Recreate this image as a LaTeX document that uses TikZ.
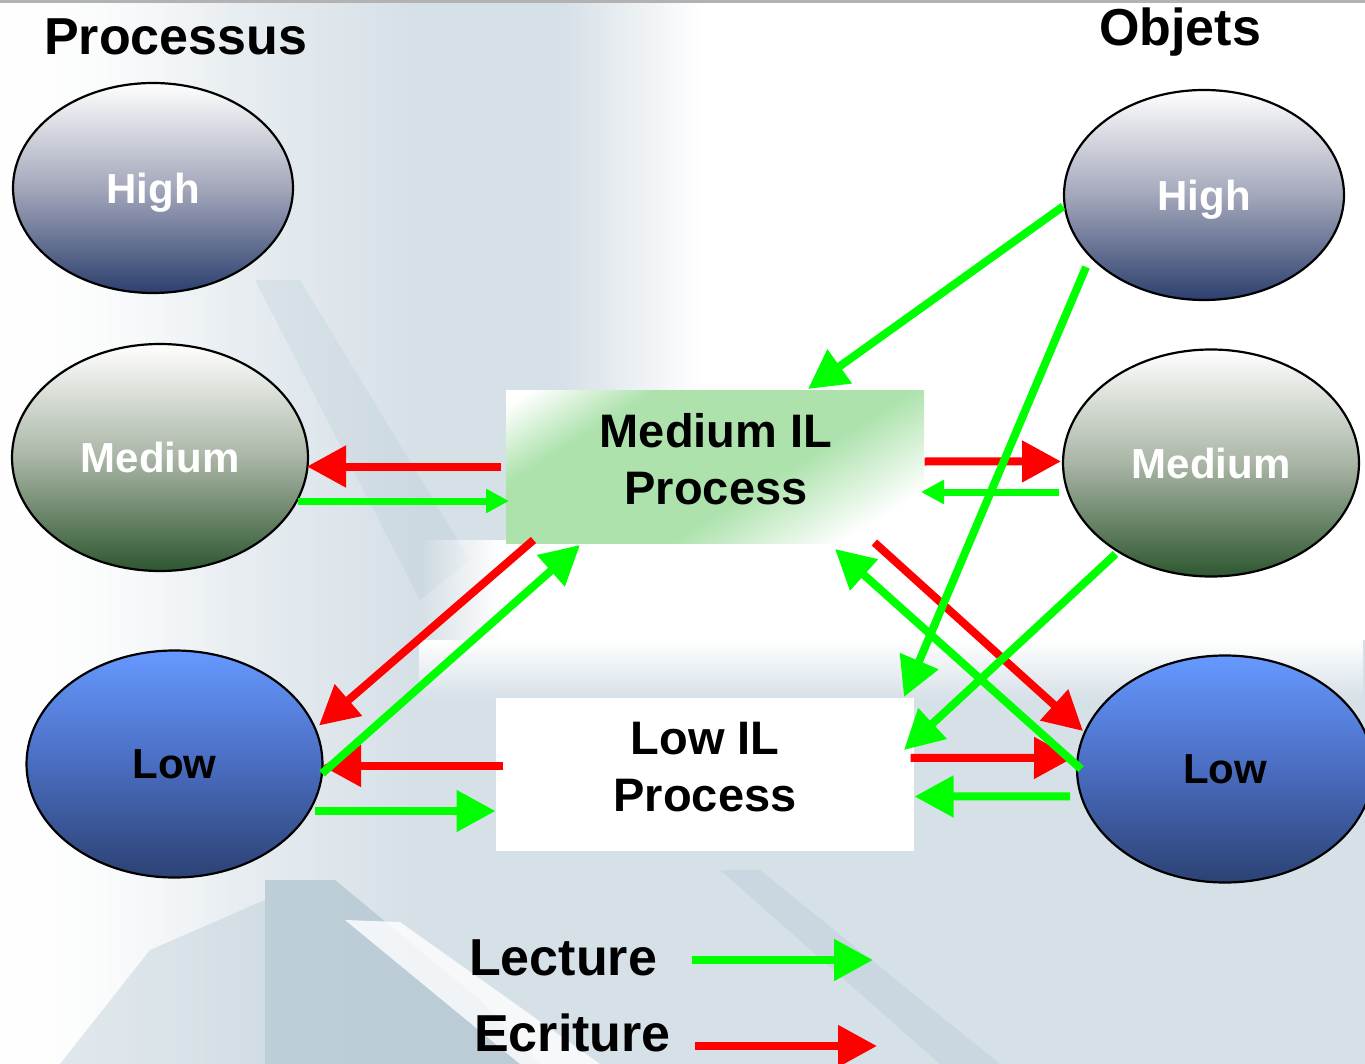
\documentclass[tikz,border=0pt]{standalone}
\usepackage{fontspec}
\setmainfont{Liberation Sans}
\usetikzlibrary{shapes.geometric,arrows.meta,fadings,calc}
\definecolor{bgc}{HTML}{D6E0E7}
\definecolor{bgd}{HTML}{B5C8D3}
\definecolor{gr}{HTML}{00FF00}
\definecolor{rd}{HTML}{FF0000}
\definecolor{boxg}{HTML}{ADE2AD}
\definecolor{hib}{HTML}{2C3F6E}
\definecolor{him}{HTML}{A3A7BA}
\definecolor{meb}{HTML}{2E5730}
\definecolor{mem}{HTML}{A9B5A5}
\definecolor{lot}{HTML}{6699FF}
\definecolor{lom}{HTML}{4A6DC0}
\definecolor{lob}{HTML}{2C4274}
\pgfdeclarehorizontalshading{boxsh}{100bp}{color(0bp)=(white); color(18bp)=(white); color(31bp)=(boxg); color(58bp)=(boxg); color(76bp)=(white); color(100bp)=(white)}
\begin{document}
\begin{tikzpicture}[x=1pt,y=-1pt,
  lvl/.style={ellipse, draw=black, line width=2.2pt, inner sep=0pt, text depth=0pt,
    font=\fontsize{42}{46}\selectfont\bfseries},
  hist/.style={lvl, minimum width=280pt, minimum height=210pt, top color=white, bottom color=hib, middle color=him, text=white},
  mest/.style={lvl, minimum width=296pt, minimum height=227pt, top color=white, bottom color=meb, middle color=mem, text=white},
  lost/.style={lvl, minimum width=296pt, minimum height=227pt, top color=lot, bottom color=lob, middle color=lom, text=black},
  procbox/.style={inner sep=0pt, minimum width=418pt, minimum height=153pt},
  boxtext/.style={align=center, inner sep=0pt, font=\fontsize{47}{57}\selectfont\bfseries},
  title/.style={inner sep=0pt, anchor=base west, font=\fontsize{52}{56}\selectfont\bfseries},
  wline/.style={draw=rd, line width=8pt, -{Triangle[length=39pt,width=40pt]}},
  rline/.style={draw=gr, line width=8pt, -{Triangle[length=39pt,width=40pt]}},
  rsmall/.style={draw=gr, line width=7pt, -{Triangle[length=23pt,width=23pt]}}]
\useasboundingbox (0,0) rectangle (1365,1064);
\clip (0,0) rectangle (1365,1064);
% background
\fill[bgc] (0,0) rectangle (1365,1064);
\fill[white, path fading=east] (0,0) rectangle (420,1064);
\fill[white, path fading=east] (0,0) rectangle (240,1064);
\fill[bgd, opacity=0.25] (255,280) -- (300,280) -- (470,560) -- (420,600) -- cycle;
\fill[white] (700,0) rectangle (1365,620);
\fill[white, path fading=west] (560,0) rectangle (700,620);
\fill[white] (500,540) rectangle (1365,640);
\fill[white, path fading=west] (420,540) rectangle (500,640);
\fill[white, path fading=south] (420,640) rectangle (1365,700);
\fill[bgd, opacity=0.8] (265,880) -- (335,880) -- (480,1000) -- (540,1064) -- (265,1064) -- cycle;
\fill[bgd, opacity=0.4] (60,1064) -- (150,950) -- (265,900) -- (265,1064) -- cycle;
\fill[white, opacity=0.8] (345,920) -- (400,922) -- (600,1064) -- (520,1064) -- cycle;
\fill[bgd, opacity=0.35] (720,870) -- (760,870) -- (1000,1064) -- (940,1064) -- cycle;
\draw[gray!60, line width=3pt] (0,1.5) -- (1365,1.5);
% titles
\node[title] (tproc) at (44,55) {Processus};
\node[title] (tobj) at (1099,46) {Objets};
% ellipses
\node[hist] (phigh) at (153,188) {High};
\node[mest] (pmed) at (160,457.5) {Medium};
\node[lost] (plow) at (174.5,764) {Low};
\node[hist] (ohigh) at (1204,195) {High};
\node[mest] (omed) at (1211,463) {Medium};
\node[lost] (olow) at (1225,769) {Low};
% boxes
\node[procbox, shade, shading=boxsh, shading angle=-58] (medbox) at (715,466.5) {};
\node[boxtext] (medtxt) at (716,459.5) {Medium IL\\Process};
\node[procbox, fill=white] (lowbox) at (704.5,774.5) {};
\node[boxtext] (lowtxt) at (705,767.5) {Low IL\\Process};
% write arrows
\draw[wline] ($(medbox)+(-214,0)$) -- ($(pmed)+(147,9)$);
\draw[wline] ($(medbox)+(-181.5,73.5)$) -- ($(plow)+(144.5,-38.5)$);
\draw[wline] ($(lowbox)+(-201.5,-8.5)$) -- ($(plow)+(147.5,2)$);
\draw[wline] ($(medbox)+(209.6,-5)$) -- ($(omed)+(-150,-1.6)$);
\draw[wline] ($(medbox)+(159.4,76)$) -- ($(olow)+(-142,-38)$);
\draw[wline] ($(lowbox)+(206.2,-16.7)$) -- ($(olow)+(-152,-11)$);
% read arrows
\draw[rsmall] ($(pmed)+(138,43.5)$) -- ($(medbox)+(-206,34.5)$);
\draw[rline] ($(plow)+(147.5,9.5)$) -- ($(medbox)+(-135,78.5)$);
\draw[rline] ($(plow)+(140.5,47)$) -- ($(lowbox)+(-209,36.5)$);
\draw[rline] ($(ohigh)+(-141,11.4)$) -- ($(medbox)+(93,-77.5)$);
\draw[rline] ($(ohigh)+(-118,72)$) -- ($(lowbox)+(199.5,-77.5)$);
\draw[rsmall] ($(omed)+(-152,29)$) -- ($(medbox)+(206,25.5)$);
\draw[rline] ($(olow)+(-144,0)$) -- ($(medbox)+(120,82.5)$);
\draw[rline] ($(omed)+(-95.4,91)$) -- ($(lowbox)+(199.5,-24.5)$);
\draw[rline] ($(olow)+(-155,27.4)$) -- ($(lowbox)+(210,22)$);
% legend
\node[title] (lect) at (469,975) {Lecture};
\node[title] (ecri) at (474,1051) {Ecriture};
\coordinate (lecs) at (692,960);
\coordinate (lece) at (873,960);
\coordinate (ecrs) at (695,1046);
\coordinate (ecre) at (877,1046);
\draw[rline] (lecs) -- (lece);
\draw[wline] (ecrs) -- (ecre);
\end{tikzpicture}
\end{document}
